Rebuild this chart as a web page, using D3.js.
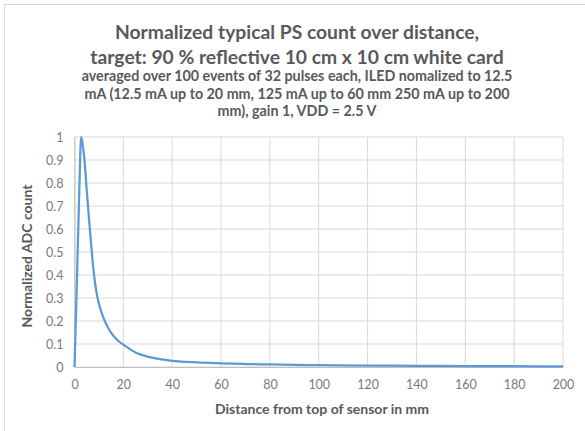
<!DOCTYPE html>
<html><head><meta charset="utf-8">
<script src="https://cdn.jsdelivr.net/npm/d3@7"></script>
<style>html,body{margin:0;padding:0;background:#fff;}svg{display:block;}</style>
</head><body>
<script>
const titleLines = ["Normalized typical PS count over distance,", "target: 90 % reflective 10 cm x 10 cm white card"];
const subtitleLines = ["averaged over 100 events of 32 pulses each, ILED nomalized to 12.5", "mA (12.5 mA up to 20 mm, 125 mA up to 60 mm 250 mA up to 200", "mm),  gain 1,  VDD = 2.5 V"];
const xTitle = "Distance from top of sensor in mm";
const yTitle = "Normalized ADC count";
const distance = [0,1,2,2.7,3,3.5,4,5,6,7,8,9,10,12,14,16,18,20,25,30,35,40,50,60,70,80,90,100,120,140,160,180,200];
const adcCount = [0,0.38,0.78,1.0,0.99,0.955,0.91,0.77,0.635,0.51,0.40,0.325,0.275,0.21,0.165,0.135,0.113,0.097,0.063,0.045,0.034,0.027,0.02,0.016,0.013,0.011,0.009,0.008,0.006,0.005,0.004,0.0035,0.003];
const xTicks = [0,20,40,60,80,100,120,140,160,180,200];
const yTicks = [0,0.1,0.2,0.3,0.4,0.5,0.6,0.7,0.8,0.9,1];

const W = 585, H = 431;
const m = {left: 74.5, right: 563, top: 137, bottom: 367};
const svg = d3.select("body").append("svg").attr("width", W).attr("height", H);
svg.append("rect").attr("x", 4.5).attr("y", 4.5).attr("width", W + 10).attr("height", H + 10)
  .attr("fill", "#fff").attr("stroke", "#d9d9d9");

const x = d3.scaleLinear().domain([0, 200]).range([m.left, m.right]);
const y = d3.scaleLinear().domain([0, 1]).range([m.bottom, m.top]);
const font = "Lato, 'Open Sans', sans-serif";

// gridlines
svg.append("g").selectAll("line").data(yTicks).join("line")
  .attr("x1", m.left).attr("x2", m.right).attr("y1", d => y(d)).attr("y2", d => y(d))
  .attr("stroke", "#d9d9d9").attr("stroke-width", 1);
svg.append("g").selectAll("line").data(xTicks).join("line")
  .attr("y1", m.top).attr("y2", m.bottom).attr("x1", d => x(d)).attr("x2", d => x(d))
  .attr("stroke", "#d9d9d9").attr("stroke-width", 1);

// axes
const xAxis = svg.append("g").attr("transform", `translate(0,${m.bottom})`)
  .call(d3.axisBottom(x).tickValues(xTicks).tickSize(0).tickPadding(13).tickFormat(d3.format("d")));
const yAxis = svg.append("g").attr("transform", `translate(${m.left},0)`)
  .call(d3.axisLeft(y).tickValues(yTicks).tickSize(0).tickPadding(11).tickFormat(d => d === 0 ? "0" : d === 1 ? "1" : d3.format(".1f")(d)));
[xAxis, yAxis].forEach(a => {
  a.select(".domain").attr("stroke", "#bfbfbf");
  a.selectAll("text").attr("fill", "#7a7a7a").style("font-family", font).style("font-size", "12.5px");
});

// line
svg.append("path").datum(distance.map((d, i) => [d, adcCount[i]]))
  .attr("fill", "none").attr("stroke", "#5b9bd5").attr("stroke-width", 2.25)
  .attr("stroke-linejoin", "round")
  .attr("d", d3.line().x(d => x(d[0])).y(d => y(d[1])).curve(d3.curveMonotoneX));

// titles
svg.append("g").selectAll("text").data(titleLines).join("text")
  .attr("x", 297).attr("y", (d, i) => 39 + i * 24.5).attr("text-anchor", "middle")
  .attr("fill", "#595959").style("font-family", font).style("font-weight", "bold").style("font-size", "19.3px")
  .text(d => d);
svg.append("g").selectAll("text").data(subtitleLines).join("text")
  .attr("x", 297).attr("y", (d, i) => 81 + i * 17.5).attr("text-anchor", "middle")
  .attr("fill", "#595959").style("font-family", font).style("font-weight", "bold").style("font-size", "14.3px")
  .text(d => d);

svg.append("text").attr("x", 322).attr("y", 414).attr("text-anchor", "middle")
  .attr("fill", "#595959").style("font-family", font).style("font-weight", "bold").style("font-size", "14px")
  .text(xTitle);
svg.append("text").attr("transform", "translate(27,256) rotate(-90)").attr("dy", "0.35em").attr("text-anchor", "middle")
  .attr("fill", "#595959").style("font-family", font).style("font-weight", "bold").style("font-size", "14px")
  .text(yTitle);
</script>
</body></html>
